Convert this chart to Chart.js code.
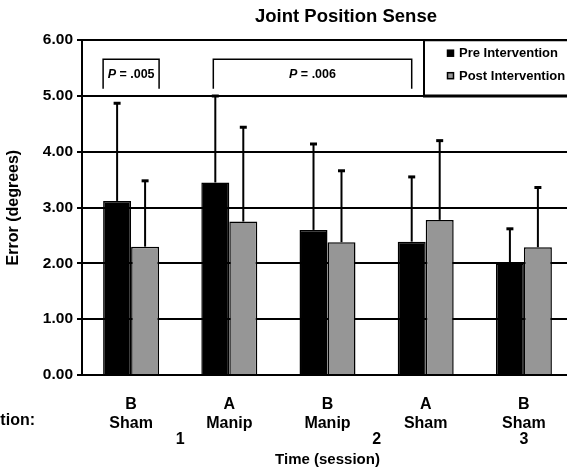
<!DOCTYPE html>
<html>
<head>
<meta charset="utf-8">
<title>Joint Position Sense</title>
<script src="https://cdn.jsdelivr.net/npm/chart.js@4"></script>
<style>
    html, body { margin: 0; padding: 0; background: #fff; overflow: hidden; }
    #wrap { position: relative; width: 692px; height: 476px; }
</style>
</head>
<body>
<div id="wrap"><canvas id="jpsChart" width="692" height="476"></canvas></div>
<script>
const FONT = "'Liberation Sans', Arial, Helvetica, sans-serif";

// Intervention per bar group (letter / treatment)
const interventions = [['B', 'Sham'], ['A', 'Manip'], ['B', 'Manip'], ['A', 'Sham'], ['B', 'Sham']];

// Mean error (degrees) and SD
const preMeans = [3.12, 3.45, 2.60, 2.39, 2.00];
const preSD = [1.75, 1.55, 1.54, 1.16, 0.62];
const postMeans = [2.30, 2.75, 2.38, 2.78, 2.29];
const postSD = [1.18, 1.69, 1.28, 1.42, 1.07];

// Session numbers and the group index they sit under
const sessionLabels = ['1', '2', '3'];
const sessionAt = [0.5, 2.5, 4];

// Significance brackets (group indexes)
const pValues = [
    { text: '.005', from: 0, to: 0 },
    { text: '.006', from: 1, to: 3 }
];

// One-sided (upward) error bars
const errorBars = {
    id: 'errorBars',
    afterDatasetsDraw(chart) {
        const ctx = chart.ctx;
        const y = chart.scales.y;
        const sds = [preSD, postSD];
        ctx.save();
        ctx.strokeStyle = '#000';
        chart.data.datasets.forEach((ds, d) => {
            chart.getDatasetMeta(d).data.forEach((bar, i) => {
                const top = y.getPixelForValue(ds.data[i] + sds[d][i]);
                ctx.lineWidth = 2;
                ctx.beginPath();
                ctx.moveTo(bar.x, bar.y);
                ctx.lineTo(bar.x, top);
                ctx.stroke();
                ctx.lineWidth = 3;
                ctx.beginPath();
                ctx.moveTo(bar.x - 3.5, top);
                ctx.lineTo(bar.x + 3.5, top);
                ctx.stroke();
            });
        });
        ctx.restore();
    }
};

// Brackets, legend box, session numbers and the "Intervention:" row label
const extras = {
    id: 'extras',
    afterDraw(chart) {
        const ctx = chart.ctx;
        const x = chart.scales.x;
        const y = chart.scales.y;
        const pre = chart.getDatasetMeta(0).data;
        const post = chart.getDatasetMeta(1).data;
        ctx.save();
        ctx.fillStyle = '#000';
        ctx.strokeStyle = '#000';

        // p value brackets
        const yt = y.getPixelForValue(5.66);
        const yb = y.getPixelForValue(5.13);
        pValues.forEach(p => {
            let x0, x1;
            if (p.from === p.to) {
                x0 = pre[p.from].x - pre[p.from].width / 2;
                x1 = post[p.to].x + post[p.to].width / 2;
            } else {
                x0 = pre[p.from].x - 2;
                x1 = pre[p.to].x;
            }
            ctx.lineWidth = 1.5;
            ctx.beginPath();
            ctx.moveTo(x0, yb);
            ctx.lineTo(x0, yt);
            ctx.lineTo(x1, yt);
            ctx.lineTo(x1, yb);
            ctx.stroke();

            const rest = ' = ' + p.text;
            ctx.textBaseline = 'middle';
            ctx.textAlign = 'left';
            ctx.font = 'italic bold 12.5px ' + FONT;
            const wP = ctx.measureText('P').width;
            ctx.font = 'bold 12.5px ' + FONT;
            const wR = ctx.measureText(rest).width;
            const sx = (x0 + x1) / 2 - (wP + wR) / 2;
            const ty = (yt + yb) / 2 + 1;
            ctx.font = 'italic bold 12.5px ' + FONT;
            ctx.fillText('P', sx, ty);
            ctx.font = 'bold 12.5px ' + FONT;
            ctx.fillText(rest, sx + wP, ty);
        });

        // legend box
        const lx = 424;
        const ly0 = y.getPixelForValue(6);
        const ly1 = y.getPixelForValue(5);
        ctx.fillStyle = '#fff';
        ctx.fillRect(lx, ly0, chart.width - lx, ly1 - ly0);
        ctx.lineWidth = 2;
        ctx.beginPath();
        ctx.moveTo(chart.width, ly0);
        ctx.lineTo(lx, ly0);
        ctx.lineTo(lx, ly1);
        ctx.stroke();
        ctx.lineWidth = 3;
        ctx.beginPath();
        ctx.moveTo(lx - 1, ly1);
        ctx.lineTo(chart.width, ly1);
        ctx.stroke();

        ctx.font = 'bold 13px ' + FONT;
        ctx.textAlign = 'left';
        ctx.textBaseline = 'middle';
        const rowY = [ly0 + 13, ly0 + 35.5];
        chart.data.datasets.forEach((ds, d) => {
            ctx.fillStyle = ds.backgroundColor;
            ctx.fillRect(447.5, rowY[d] - 3, 6, 6);
            ctx.lineWidth = 1.5;
            ctx.strokeRect(447.5, rowY[d] - 3, 6, 6);
            ctx.fillStyle = '#000';
            ctx.fillText(ds.label, 459, rowY[d] + 0.5);
        });

        // session numbers and row label
        ctx.font = 'bold 16px ' + FONT;
        ctx.textAlign = 'center';
        sessionLabels.forEach((s, i) => {
            ctx.fillText(s, x.getPixelForValue(sessionAt[i]), 439.5);
        });
        ctx.textAlign = 'right';
        ctx.fillText('Intervention:', 35, 421);
        ctx.restore();
    }
};

const ctx = document.getElementById('jpsChart').getContext('2d');
const chart = new Chart(ctx, {
    type: 'bar',
    data: {
        labels: interventions,
        datasets: [
            {
                label: 'Pre Intervention',
                data: preMeans,
                backgroundColor: '#000000',
                borderColor: '#000000',
                borderWidth: 1.5
            },
            {
                label: 'Post Intervention',
                data: postMeans,
                backgroundColor: '#969696',
                borderColor: '#000000',
                borderWidth: 1.5
            }
        ]
    },
    options: {
        responsive: false,
        animation: false,
        devicePixelRatio: 1,
        categoryPercentage: 0.57,
        barPercentage: 1.0,
        plugins: {
            legend: { display: false },
            tooltip: { enabled: false },
            title: {
                display: true,
                text: 'Joint Position Sense',
                color: '#000',
                font: { family: FONT, size: 18.5, weight: 'bold' },
                padding: { top: 6, bottom: 12 }
            }
        },
        scales: {
            x: {
                grid: { display: false },
                border: { display: true, color: '#000', width: 2 },
                ticks: {
                    color: '#000',
                    padding: 12.5,
                    font: { family: FONT, size: 16, weight: 'bold', lineHeight: 1.15 },
                    maxRotation: 0
                },
                title: {
                    display: true,
                    text: 'Time (session)',
                    color: '#000',
                    font: { family: FONT, size: 15, weight: 'bold' },
                    padding: { top: 20, bottom: 7 }
                },
                afterFit(scale) { scale.height = 101; }
            },
            y: {
                min: 0,
                max: 6,
                grid: { color: '#000', lineWidth: 2, tickLength: 5 },
                border: { display: true, color: '#000', width: 2 },
                ticks: {
                    stepSize: 1,
                    color: '#000',
                    padding: 4,
                    font: { family: FONT, size: 15.5, weight: 'bold' },
                    callback: v => v.toFixed(2)
                },
                title: {
                    display: true,
                    text: 'Error (degrees)',
                    color: '#000',
                    font: { family: FONT, size: 16, weight: 'bold' },
                    padding: { top: 4, bottom: 4 }
                },
                afterFit(scale) { scale.width = 82; }
            },
            yPad: {
                type: 'linear',
                position: 'right',
                grid: { display: false },
                border: { display: false },
                ticks: { display: false },
                afterFit(scale) { scale.width = 119; }
            }
        }
    },
    plugins: [errorBars, extras]
});
</script>
</body>
</html>
